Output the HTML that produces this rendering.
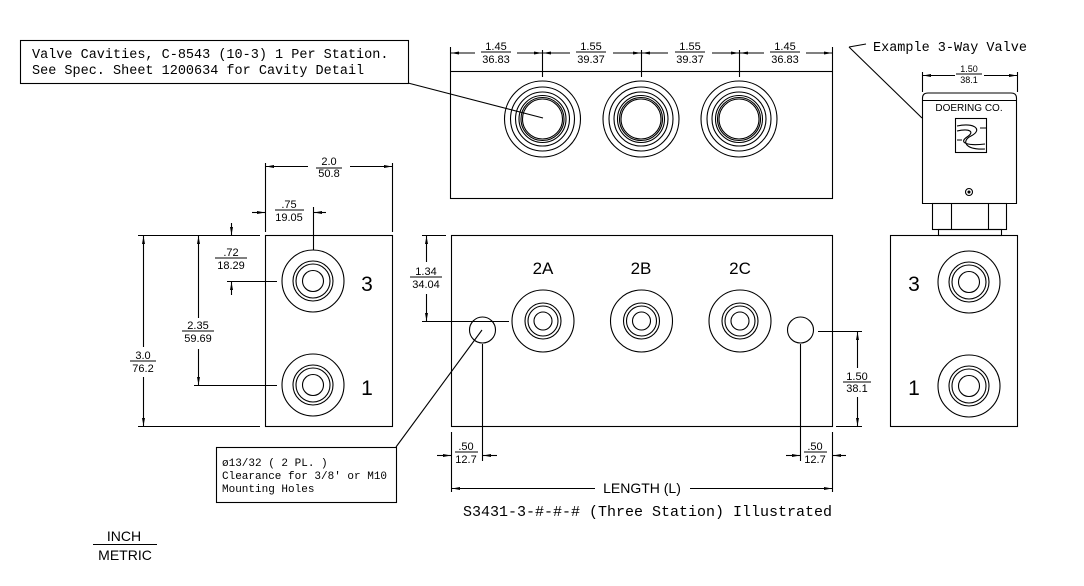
<!DOCTYPE html>
<html><head><meta charset="utf-8"><style>
html,body{margin:0;padding:0;background:#fff;}
svg{display:block;}
text{font-family:"Liberation Sans",sans-serif;fill:#000;}
.m{font-family:"Liberation Mono",monospace;}
.d{font-size:11px;text-anchor:middle;}
</style></head><body>
<svg width="1084" height="586" viewBox="0 0 1084 586" xmlns="http://www.w3.org/2000/svg">
<defs>
<marker id="a" markerWidth="8" markerHeight="4" refX="8" refY="2" orient="auto" markerUnits="userSpaceOnUse"><path d="M0,0.5 L8,2 L0,3.5Z" fill="#000"/></marker>
</defs>
<g stroke="#000" stroke-width="1.1" fill="none">
<!-- top callout -->
<rect x="20.5" y="40.5" width="388" height="43"/>
<line x1="408" y1="83" x2="543" y2="118"/>
<!-- top view -->
<rect x="450.5" y="71.5" width="382" height="127"/>
<line x1="450.5" y1="47" x2="450.5" y2="71"/>
<line x1="832.5" y1="47" x2="832.5" y2="71"/>
<line x1="542.5" y1="50" x2="542.5" y2="77"/>
<line x1="641.5" y1="50" x2="641.5" y2="77"/>
<line x1="739.5" y1="50" x2="739.5" y2="77"/>
<line x1="475" y1="53" x2="451" y2="53" marker-end="url(#a)"/><line x1="517" y1="53" x2="542" y2="53" marker-end="url(#a)"/>
<line x1="570" y1="53" x2="543" y2="53" marker-end="url(#a)"/><line x1="613" y1="53" x2="641" y2="53" marker-end="url(#a)"/>
<line x1="668" y1="53" x2="642" y2="53" marker-end="url(#a)"/><line x1="712" y1="53" x2="739" y2="53" marker-end="url(#a)"/>
<line x1="764" y1="53" x2="740" y2="53" marker-end="url(#a)"/><line x1="806" y1="53" x2="832" y2="53" marker-end="url(#a)"/>
<g id="tc">
<circle cx="542.5" cy="119" r="38"/><circle cx="542.5" cy="119" r="32"/><circle cx="542.5" cy="119" r="27"/><circle cx="542.5" cy="119" r="23.5"/><circle cx="542.5" cy="119" r="21.5"/><circle cx="542.5" cy="119" r="20"/>
</g>
<use href="#tc" x="98.5"/><use href="#tc" x="196.5"/>
<!-- front view -->
<rect x="451.5" y="235.5" width="381" height="191"/>
<g id="fc"><circle cx="543" cy="321" r="31"/><circle cx="543" cy="321" r="18"/><circle cx="543" cy="321" r="15"/><circle cx="543" cy="321" r="9"/></g>
<use href="#fc" x="98.5"/><use href="#fc" x="197"/>
<circle cx="482.5" cy="330" r="13"/><circle cx="800.5" cy="330" r="13"/>
<line x1="422" y1="235.5" x2="446" y2="235.5"/>
<line x1="422" y1="321.5" x2="509" y2="321.5"/>
<line x1="426.5" y1="262" x2="426.5" y2="236" marker-end="url(#a)"/><line x1="426.5" y1="294" x2="426.5" y2="321" marker-end="url(#a)"/>
<line x1="818" y1="331.5" x2="862" y2="331.5"/>
<line x1="836" y1="426.5" x2="862" y2="426.5"/>
<line x1="857.5" y1="368" x2="857.5" y2="332" marker-end="url(#a)"/><line x1="857.5" y1="397" x2="857.5" y2="426" marker-end="url(#a)"/>
<line x1="451.5" y1="432" x2="451.5" y2="492"/><line x1="482.5" y1="344" x2="482.5" y2="461"/>
<line x1="437" y1="455.5" x2="451" y2="455.5" marker-end="url(#a)"/><line x1="497" y1="455.5" x2="483" y2="455.5" marker-end="url(#a)"/>
<line x1="800.5" y1="344" x2="800.5" y2="461"/><line x1="832.5" y1="432" x2="832.5" y2="492"/>
<line x1="786" y1="455.5" x2="800" y2="455.5" marker-end="url(#a)"/><line x1="846" y1="455.5" x2="833" y2="455.5" marker-end="url(#a)"/>
<line x1="595" y1="488.5" x2="452" y2="488.5" marker-end="url(#a)"/><line x1="690" y1="488.5" x2="832" y2="488.5" marker-end="url(#a)"/>
<!-- bottom callout -->
<rect x="216.5" y="447.5" width="180" height="55"/>
<line x1="396" y1="447" x2="482" y2="330"/>
<!-- left side view -->
<rect x="265.5" y="235.5" width="127" height="191"/>
<g id="sc"><circle cx="313" cy="281" r="31"/><circle cx="313" cy="281" r="20"/><circle cx="313" cy="281" r="17"/><circle cx="313" cy="281" r="10.5"/></g>
<use href="#sc" y="104"/>
<line x1="265.5" y1="163" x2="265.5" y2="232"/><line x1="392.5" y1="163" x2="392.5" y2="232"/>
<line x1="308" y1="166.5" x2="266" y2="166.5" marker-end="url(#a)"/><line x1="350" y1="166.5" x2="392" y2="166.5" marker-end="url(#a)"/>
<line x1="313.5" y1="207" x2="313.5" y2="250"/>
<line x1="252" y1="212.5" x2="265" y2="212.5" marker-end="url(#a)"/><line x1="326" y1="212.5" x2="314" y2="212.5" marker-end="url(#a)"/>
<line x1="138" y1="235.5" x2="260" y2="235.5"/><line x1="138" y1="426.5" x2="260" y2="426.5"/>
<line x1="227" y1="281.5" x2="277" y2="281.5"/><line x1="194" y1="385.5" x2="277" y2="385.5"/>
<line x1="231.5" y1="223" x2="231.5" y2="235" marker-end="url(#a)"/><line x1="231.5" y1="295" x2="231.5" y2="282" marker-end="url(#a)"/>
<line x1="198.5" y1="318" x2="198.5" y2="236" marker-end="url(#a)"/><line x1="198.5" y1="349" x2="198.5" y2="385" marker-end="url(#a)"/>
<line x1="143.5" y1="347" x2="143.5" y2="236" marker-end="url(#a)"/><line x1="143.5" y1="377" x2="143.5" y2="426" marker-end="url(#a)"/>
<!-- right view -->
<rect x="890.5" y="235.5" width="127" height="191"/>
<g id="rc"><circle cx="969" cy="282" r="31"/><circle cx="969" cy="282" r="20"/><circle cx="969" cy="282" r="17"/><circle cx="969" cy="282" r="10.5"/></g>
<use href="#rc" y="104"/>
<path d="M922.5,203.5 L922.5,98 Q922.5,93 928,93 L1011,93 Q1016.5,93 1016.5,98 L1016.5,203.5 Z"/>
<line x1="922" y1="100.5" x2="1017" y2="100.5"/>
<rect x="955.5" y="118.5" width="31" height="34"/>
<path d="M957,126 C975,122 983,130 971,136 C961,141 965,150 985,149 M957,131 C970,128 975,132 967,137 C958,143 968,146 985,144 M957,140 L962,140 M980,128 L986,128"/>
<circle cx="969" cy="192" r="3.5"/><circle cx="969" cy="192" r="1" fill="#000"/>
<rect x="932.5" y="203.5" width="74" height="26"/>
<line x1="951.5" y1="204" x2="951.5" y2="229"/><line x1="988.5" y1="204" x2="988.5" y2="229"/>
<rect x="938.5" y="229.5" width="63" height="6"/>
<line x1="922.5" y1="72" x2="922.5" y2="92"/><line x1="1017.5" y1="72" x2="1017.5" y2="92"/>
<line x1="955" y1="75.5" x2="923" y2="75.5" marker-end="url(#a)"/><line x1="984" y1="75.5" x2="1017" y2="75.5" marker-end="url(#a)"/>
<line x1="849" y1="47" x2="866" y2="44"/><line x1="849" y1="47" x2="922" y2="118"/>
<!-- inch/metric -->
<line x1="93" y1="544.5" x2="157" y2="544.5"/>
</g>
<!-- fraction bars -->
<g stroke="#000" stroke-width="0.9">
<line x1="481" y1="52" x2="511" y2="52"/><line x1="576" y1="52" x2="606" y2="52"/><line x1="675" y1="52" x2="705" y2="52"/><line x1="770" y1="52" x2="800" y2="52"/>
<line x1="410" y1="277" x2="442" y2="277"/><line x1="843" y1="382" x2="871" y2="382"/>
<line x1="455" y1="452" x2="478" y2="452"/><line x1="804" y1="452" x2="827" y2="452"/>
<line x1="316" y1="168" x2="342" y2="168"/><line x1="275" y1="210" x2="304" y2="210"/>
<line x1="215" y1="258" x2="247" y2="258"/><line x1="182" y1="331" x2="214" y2="331"/><line x1="130" y1="361" x2="156" y2="361"/>
<line x1="956" y1="74" x2="982" y2="74"/>
</g>
<g class="d">
<text x="496" y="50">1.45</text><text x="496" y="63">36.83</text>
<text x="591" y="50">1.55</text><text x="591" y="63">39.37</text>
<text x="690" y="50">1.55</text><text x="690" y="63">39.37</text>
<text x="785" y="50">1.45</text><text x="785" y="63">36.83</text>
<text x="426" y="275">1.34</text><text x="426" y="288">34.04</text>
<text x="857" y="380">1.50</text><text x="857" y="392">38.1</text>
<text x="466" y="450">.50</text><text x="466" y="463">12.7</text>
<text x="815" y="450">.50</text><text x="815" y="463">12.7</text>
<text x="329" y="165">2.0</text><text x="329" y="177">50.8</text>
<text x="289" y="208">.75</text><text x="289" y="221">19.05</text>
<text x="231" y="256">.72</text><text x="231" y="269">18.29</text>
<text x="198" y="329">2.35</text><text x="198" y="342">59.69</text>
<text x="143" y="359">3.0</text><text x="143" y="372">76.2</text>
<text x="969" y="72" style="font-size:9px">1.50</text><text x="969" y="83" style="font-size:9px">38.1</text>
</g>
<text class="m" x="32" y="58" style="font-size:13.5px">Valve Cavities, C-8543 (10-3) 1 Per Station.</text>
<text class="m" x="32" y="74" style="font-size:13.5px">See Spec. Sheet 1200634 for Cavity Detail</text>
<text class="m" x="873" y="51" style="font-size:13.5px">Example 3-Way Valve</text>
<text class="m" x="222" y="466" style="font-size:11px">ø13/32 ( 2 PL. )</text>
<text class="m" x="222" y="479" style="font-size:11px">Clearance for 3/8' or M10</text>
<text class="m" x="222" y="492" style="font-size:11px">Mounting Holes</text>
<text x="642" y="493" style="font-size:14px" text-anchor="middle">LENGTH (L)</text>
<text class="m" x="463" y="516" style="font-size:15px" textLength="369">S3431-3-#-#-# (Three Station) Illustrated</text>
<text x="543" y="274" style="font-size:17px" text-anchor="middle">2A</text>
<text x="641" y="274" style="font-size:17px" text-anchor="middle">2B</text>
<text x="740" y="274" style="font-size:17px" text-anchor="middle">2C</text>
<text x="367" y="291" style="font-size:21px" text-anchor="middle">3</text>
<text x="367" y="395" style="font-size:21px" text-anchor="middle">1</text>
<text x="914" y="291" style="font-size:21px" text-anchor="middle">3</text>
<text x="914" y="395" style="font-size:21px" text-anchor="middle">1</text>
<text x="969" y="111" style="font-size:10px" text-anchor="middle">DOERING CO.</text>
<text x="124" y="541" style="font-size:14px" text-anchor="middle">INCH</text>
<text x="125" y="560" style="font-size:14px" text-anchor="middle">METRIC</text>
</svg>
</body></html>
